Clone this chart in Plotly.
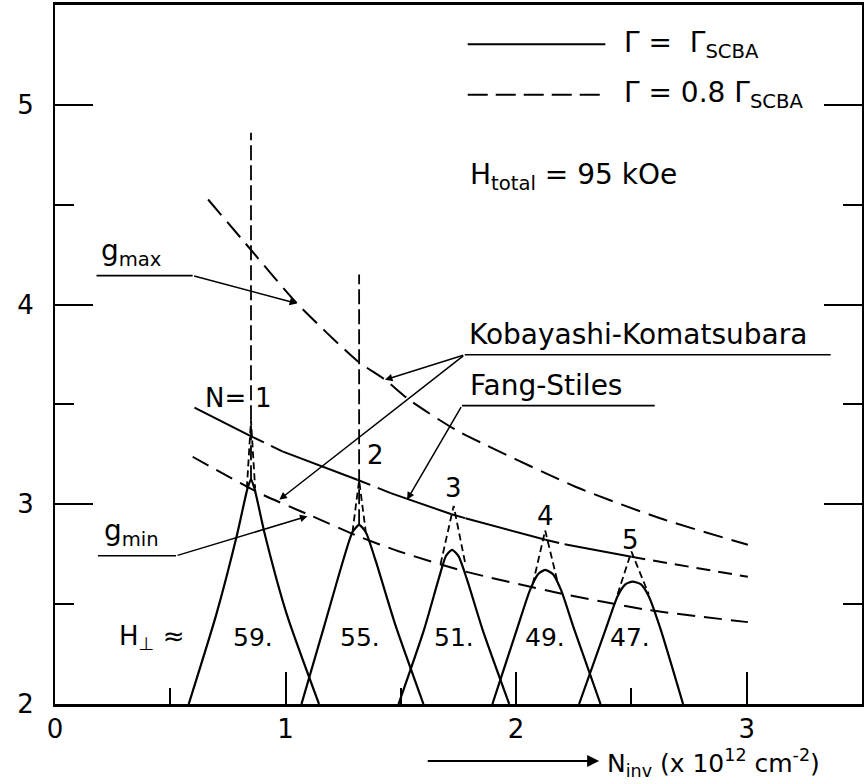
import plotly.graph_objects as go

# ---- g-factor curves versus inversion-layer density ----
# upper curve (g_max)
GMAX_X = [0.664, 0.855, 1.05, 1.313, 1.431, 1.535, 1.738, 2.257, 2.624, 3.005]
GMAX_Y = [4.526, 4.267, 4.005, 3.716, 3.624, 3.524, 3.373, 3.088, 2.93, 2.797]

# middle curve (Fang-Stiles), solid or dashed between successive points
FS_X = [0.605, 0.851, 0.986, 1.311, 1.456, 1.72, 1.78, 2.127, 2.21, 2.5, 3.005]
FS_Y = [3.484, 3.34, 3.265, 3.123, 3.056, 2.95, 2.93, 2.822, 2.80, 2.737, 2.637]
FS_STYLE = ["solid", "dash", "solid", "dash", "solid",
            "dash", "solid", "dash", "solid", "dash"]

# lower curve (g_min)
GMIN_X = [0.597, 0.886, 1.116, 1.319, 1.49, 1.764, 2.183, 2.572, 3.005]
GMIN_Y = [3.238, 3.056, 2.94, 2.838, 2.765, 2.668, 2.556, 2.471, 2.41]

# ---- peaks, N = 1..5 ----
N_LEVELS = ["1", "2", "3", "4", "5"]
H_PERP = ["59.", "55.", "51.", "49.", "47."]
H_PERP_X = [0.86, 1.324, 1.73, 2.125, 2.493]

# solid outlines, Γ = Γ_SCBA
PEAK_SOLID_X = [
    [0.58, 0.70, 0.79, 0.835, 0.85, 0.865, 0.91, 1.005, 1.145],
    [1.069, 1.17, 1.25, 1.29, 1.319, 1.348, 1.39, 1.475, 1.598],
    [1.49, 1.60, 1.665, 1.695, 1.722, 1.75, 1.785, 1.855, 1.97],
    [1.897, 2.005, 2.06, 2.095, 2.126, 2.16, 2.195, 2.25, 2.366],
    [2.273, 2.39, 2.44, 2.475, 2.505, 2.54, 2.575, 2.625, 2.724],
]
PEAK_SOLID_Y = [
    [2.0, 2.45, 2.85, 3.08, 3.125, 3.08, 2.85, 2.45, 2.0],
    [2.0, 2.40, 2.72, 2.86, 2.897, 2.86, 2.72, 2.40, 2.0],
    [2.0, 2.37, 2.63, 2.74, 2.772, 2.74, 2.63, 2.37, 2.0],
    [2.0, 2.38, 2.57, 2.65, 2.672, 2.65, 2.57, 2.38, 2.0],
    [2.0, 2.38, 2.54, 2.60, 2.613, 2.60, 2.54, 2.38, 2.0],
]

# dashed tips, Γ = 0.8 Γ_SCBA
PEAK_DASH_X = [
    [0.832, 0.85, 0.868],
    [1.29, 1.319, 1.348],
    [1.672, 1.729, 1.78],
    [2.072, 2.126, 2.182],
    [2.44, 2.5, 2.575],
]
PEAK_DASH_Y = [
    [3.08, 3.42, 3.08],
    [2.86, 3.12, 2.86],
    [2.70, 2.992, 2.70],
    [2.60, 2.869, 2.60],
    [2.55, 2.763, 2.55],
]
# vertical spikes of the N = 1 and N = 2 peaks
SPIKE_X = [0.85, 1.319]
SPIKE_BASE = [3.12, 2.9]
SPIKE_TOP = [4.86, 4.15]

PEAK_LABEL_X = [0.905, 1.39, 1.729, 2.126, 2.496]
PEAK_LABEL_Y = [3.53, 3.248, 3.08, 2.94, 2.82]

X_RANGE = [0, 3.5]
Y_RANGE = [2, 5.5]

FONT = "DejaVu Sans"
INK = "black"
LABEL_SIZE = 28

fig = go.Figure()


def line(x, y, dash="solid", width=2, shape="spline"):
    fig.add_trace(go.Scatter(
        x=x, y=y, mode="lines", showlegend=False, hoverinfo="skip",
        line=dict(color=INK, width=width, dash=dash, shape=shape, smoothing=0.6),
    ))


# theory curves
line(GMAX_X, GMAX_Y, dash="20px,9px")
line(GMIN_X, GMIN_Y, dash="18px,9px")
for i, style in enumerate(FS_STYLE):
    line(FS_X[i:i + 2], FS_Y[i:i + 2], shape="linear",
         dash="solid" if style == "solid" else "14px,8px")

# peaks
for k in range(len(N_LEVELS)):
    line(PEAK_SOLID_X[k], PEAK_SOLID_Y[k], width=2.2)
    line(PEAK_DASH_X[k], PEAK_DASH_Y[k], dash="7px,4px", width=1.8, shape="linear")
for xs, y0, y1 in zip(SPIKE_X, SPIKE_BASE, SPIKE_TOP):
    line([xs, xs], [y0, y1], dash="15px,5px", width=1.8, shape="linear")

# legend samples
LEG_X = [1.79, 2.387]
line(LEG_X, [5.303, 5.303], shape="linear")
line(LEG_X, [5.05, 5.05], dash="20px,8px", shape="linear")

# label underlines
line([0.18, 0.597], [4.145, 4.145], width=1.6, shape="linear")
line([0.186, 0.525], [2.742, 2.742], width=1.6, shape="linear")
line([1.777, 3.364], [3.749, 3.749], width=1.6, shape="linear")
line([1.765, 2.601], [3.494, 3.494], width=1.6, shape="linear")

annotations = []


def text(x, y, s, size=LABEL_SIZE, xanchor="center", yanchor="middle", yref="y"):
    annotations.append(dict(
        x=x, y=y, xref="x", yref=yref, text=s, showarrow=False,
        xanchor=xanchor, yanchor=yanchor,
        font=dict(family=FONT, size=size, color=INK),
    ))


def arrow(x0, y0, x1, y1, width=1.5, size=1.0, yref="y"):
    annotations.append(dict(
        x=x1, y=y1, ax=x0, ay=y0, xref="x", yref=yref, axref="x", ayref=yref,
        text="", showarrow=True, arrowhead=2, arrowsize=size,
        arrowwidth=width, arrowcolor=INK, standoff=0, startstandoff=0,
    ))


def to_domain(y):
    # data y below the plot area, expressed as a fraction of the y domain
    return (y - Y_RANGE[0]) / (Y_RANGE[1] - Y_RANGE[0])


# legend texts
text(2.457, 5.30, "Γ =  Γ<sub>SCBA</sub>", xanchor="left")
text(2.457, 5.05, "Γ = 0.8 Γ<sub>SCBA</sub>", xanchor="left")
text(1.79, 4.64, "H<sub>total</sub> = 95 kOe", xanchor="left")

# curve labels and leaders
text(0.19, 4.16, "g<sub>max</sub>", xanchor="left", yanchor="bottom")
arrow(0.597, 4.145, 1.05, 4.005)
text(0.203, 2.757, "g<sub>min</sub>", xanchor="left", yanchor="bottom")
arrow(0.525, 2.742, 1.095, 2.94)
text(1.785, 3.759, "Kobayashi-Komatsubara", xanchor="left", yanchor="bottom")
arrow(1.777, 3.749, 1.431, 3.623)
arrow(1.777, 3.749, 0.973, 3.023)
text(1.79, 3.504, "Fang-Stiles", xanchor="left", yanchor="bottom")
arrow(1.765, 3.494, 1.527, 3.023)

# peak labels
text(0.74, 3.53, "N=", size=26)
for lab, lx, ly in zip(N_LEVELS, PEAK_LABEL_X, PEAK_LABEL_Y):
    text(lx, ly, lab, size=26)
text(0.27, 2.333, "H<sub>⊥</sub> ≈", xanchor="left", size=26)
for lab, lx in zip(H_PERP, H_PERP_X):
    text(lx, 2.333, lab, size=25)

# x-axis title with arrow
AXIS_TITLE_Y = 1.715
arrow(1.61, to_domain(AXIS_TITLE_Y), 2.36, to_domain(AXIS_TITLE_Y),
      width=2, size=1.2, yref="y domain")
text(2.387, to_domain(AXIS_TITLE_Y - 0.01),
     "N<sub>inv</sub> (x 10<sup>12</sup> cm<sup>-2</sup>)",
     xanchor="left", size=25, yref="y domain")

fig.update_layout(
    width=865, height=784,
    margin=dict(l=55, r=1, t=5, b=80),
    paper_bgcolor="white", plot_bgcolor="white",
    font=dict(family=FONT, size=26, color=INK),
    annotations=annotations,
    xaxis=dict(
        range=X_RANGE, tickvals=[0, 1, 2, 3], ticks="inside", ticklen=32,
        tickwidth=2, tickcolor=INK, showline=True, linewidth=2.5, linecolor=INK,
        mirror=True, showgrid=False, zeroline=False,
        minor=dict(dtick=0.5, tick0=0, ticks="inside", ticklen=16,
                   tickwidth=2, tickcolor=INK, showgrid=False),
        tickfont=dict(family=FONT, size=26, color=INK),
    ),
    yaxis=dict(
        range=Y_RANGE, tickvals=[2, 3, 4, 5], ticks="inside", ticklen=38,
        tickwidth=2, tickcolor=INK, showline=True, linewidth=2, linecolor=INK,
        mirror="ticks", showgrid=False, zeroline=False, ticklabelstandoff=14,
        minor=dict(dtick=0.5, tick0=0, ticks="inside", ticklen=19,
                   tickwidth=2, tickcolor=INK, showgrid=False),
        tickfont=dict(family=FONT, size=26, color=INK),
    ),
)

fig.write_html("out.html")
